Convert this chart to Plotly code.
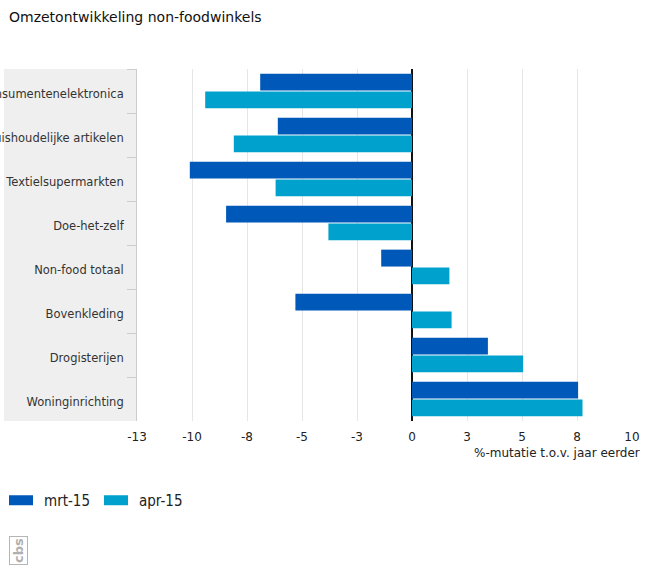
import plotly.graph_objects as go

categories = ["Consumentenelektronica", "Huishoudelijke artikelen", "Textielsupermarkten",
              "Doe-het-zelf", "Non-food totaal", "Bovenkleding", "Drogisterijen", "Woninginrichting"]
mrt_15 = [-6.9, -6.1, -10.1, -8.45, -1.4, -5.3, 3.45, 7.55]
apr_15 = [-9.4, -8.1, -6.2, -3.8, 1.7, 1.8, 5.05, 7.75]
tick_values = [-12.5, -10, -7.5, -5, -2.5, 0, 2.5, 5, 7.5, 10]
tick_labels = ["-13", "-10", "-8", "-5", "-3", "0", "3", "5", "8", "10"]
series_names = ["mrt-15", "apr-15"]
series_colors = ["#0058b8", "#00a1cd"]

W, H = 650, 582
L, R, T, B = 137, 632, 69, 421

fig = go.Figure()
for name, values, color in zip(series_names, [mrt_15, apr_15], series_colors):
    fig.add_bar(name=name, y=categories, x=values, orientation="h", marker_color=color,
                marker_line_width=0, showlegend=False, legendgroup=name)
for name, color in zip(series_names, series_colors):
    fig.add_scatter(name=name, x=[None], y=[None], mode="lines", legendgroup=name,
                    line=dict(color=color, width=10, dash="24px,100px"))

fig.update_layout(
    width=W, height=H, autosize=False,
    margin=dict(l=L, r=W - R, t=T, b=H - B, pad=0, autoexpand=False),
    paper_bgcolor="white", plot_bgcolor="white",
    barmode="group", bargap=0.19, bargroupgap=0.05,
    font=dict(family="DejaVu Sans", size=11, color="#333333"),
    title=dict(text="Omzetontwikkeling non-foodwinkels", x=9 / W, xanchor="left", xref="container",
               y=1 - 17 / H, yanchor="middle", font=dict(size=14, color="#111111")),
    showlegend=True,
    legend=dict(orientation="h", x=4 / W, xanchor="left", y=1 - 484 / H, yanchor="top",
                traceorder="normal", xref="container", yref="container",
                font=dict(family="DejaVu Sans Condensed", size=15, color="#222222"),
                itemwidth=30, entrywidth=50, entrywidthmode="pixels"),
    shapes=[dict(type="rect", xref="paper", yref="paper", layer="below",
                 x0=(4 - L) / (R - L), x1=0, y0=0, y1=1,
                 fillcolor="#efefef", line_width=0)],
    annotations=[
        dict(text="%-mutatie t.o.v. jaar eerder", xref="paper", yref="paper",
             x=(642 - L) / (R - L), xanchor="right", y=(B - 453) / (B - T), yanchor="middle",
             showarrow=False, font=dict(size=12, color="#222222")),
        dict(text="<b>cbs</b>", xref="paper", yref="paper",
             x=(18 - L) / (R - L), xanchor="center", y=(B - 551) / (B - T), yanchor="middle",
             showarrow=False, textangle=-90, bordercolor="#b5b5b5", borderwidth=1, borderpad=1,
             font=dict(size=13, color="#b0b0b0")),
    ],
)
fig.update_xaxes(range=[-12.5, 10], tickmode="array", tickvals=tick_values, ticktext=tick_labels,
                 automargin=False, showgrid=True, gridcolor="#e6e6e6", gridwidth=1,
                 zeroline=True, zerolinecolor="#111111", zerolinewidth=2,
                 showline=False, ticks="", ticklabelstandoff=7, tickfont=dict(size=12, color="#222222"))
fig.update_yaxes(autorange="reversed", type="category", automargin=False, showgrid=False, zeroline=False,
                 showline=True, linecolor="#cccccc", linewidth=1,
                 ticks="outside", ticklen=9, tickcolor="#cccccc", tickson="boundaries",
                 ticklabelstandoff=10, ticklabelshift=-3,
                 tickfont=dict(size=11.5, color="#333333"))

fig.write_html("out.html", config={"displayModeBar": False},
               post_script="document.body.style.margin='0';document.documentElement.style.overflow='hidden';")
